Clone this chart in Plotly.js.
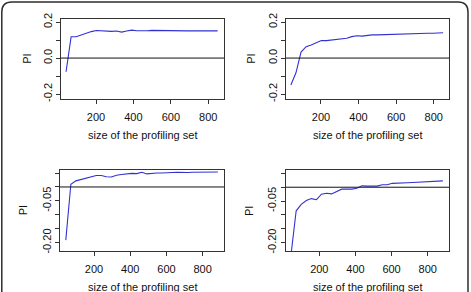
<!DOCTYPE html>
<html>
<head>
<meta charset="utf-8">
<script src="https://cdn.plot.ly/plotly-3.0.1.min.js"></script>
<style>
  html, body { margin: 0; padding: 0; background: #fff; }
  #chart { width: 471px; height: 292px; }
</style>
</head>
<body>
<div id="chart"></div>
<script>
// Profiling-set sizes for the two runs in each row
const sizesTop = [40, 67, 94, 121, 148, 175, 202, 229, 256, 283, 310, 337, 364, 391, 418, 445,
                  472, 499, 526, 553, 580, 607, 634, 661, 688, 715, 742, 769, 796, 823, 850];
const sizesBottom = [44, 72, 100, 128, 156, 184, 212, 240, 268, 296, 324, 352, 380, 408, 436, 464,
                     492, 520, 548, 576, 604, 632, 660, 688, 716, 744, 772, 800, 828, 856, 884];

// PI values per panel
const piTopLeft = [-0.076, 0.118, 0.118, 0.128, 0.140, 0.147, 0.153, 0.151, 0.146, 0.148, 0.150,
                   0.144, 0.150, 0.155, 0.152, 0.150, 0.152, 0.154, 0.153, 0.153, 0.152, 0.152,
                   0.152, 0.151, 0.151, 0.152, 0.152, 0.152, 0.151, 0.152, 0.151];
const piTopRight = [-0.150, -0.082, 0.033, 0.063, 0.073, 0.086, 0.098, 0.097, 0.100, 0.107, 0.109,
                    0.110, 0.119, 0.124, 0.122, 0.127, 0.129, 0.129, 0.130, 0.133, 0.135, 0.135,
                    0.136, 0.137, 0.138, 0.139, 0.139, 0.138, 0.138, 0.139, 0.141];
const piBottomLeft = [-0.191, 0.010, 0.022, 0.027, 0.033, 0.038, 0.041, 0.041, 0.037, 0.036, 0.042,
                      0.045, 0.048, 0.049, 0.048, 0.053, 0.047, 0.049, 0.050, 0.050, 0.050, 0.052,
                      0.053, 0.052, 0.052, 0.053, 0.053, 0.053, 0.053, 0.054, 0.054];
const piBottomRight = [-0.240, -0.085, -0.062, -0.048, -0.041, -0.045, -0.025, -0.022, -0.024, -0.015,
                       -0.007, -0.007, -0.007, -0.004, 0.005, 0.004, 0.004, 0.004, 0.009, 0.009,
                       0.014, 0.014, 0.014, 0.016, 0.017, 0.018, 0.019, 0.020, 0.022, 0.022, 0.023];

// Tick labels
const xTicks = [200, 400, 600, 800];
const yTicksTop = [-0.2, -0.1, 0, 0.1, 0.2];
const yLabelsTop = ['-0.2', '', '0.0', '', '0.2'];
const yTicksBottom = [-0.20, -0.15, -0.10, -0.05, 0, 0.05];
const yLabelsBottom = ['-0.20', '', '', '-0.05', '', ''];

const xTitle = 'size of the profiling set';
const yTitle = 'PI';

const FONT = 'Liberation Sans, Arial, Helvetica, sans-serif';
const W = 471, H = 292;

// Plot boxes in pixels: [left, right, top, bottom]
const boxes = [
  [61, 224, 19, 99.3],
  [286, 449.3, 19, 99.3],
  [60, 224, 170, 251.3],
  [285.7, 449, 170.3, 251.3]
];

const panels = [
  { x: sizesTop, y: piTopLeft, xr: [13, 884], yr: [-0.229, 0.217], tv: yTicksTop, tt: yLabelsTop },
  { x: sizesTop, y: piTopRight, xr: [14, 883], yr: [-0.229, 0.217], tv: yTicksTop, tt: yLabelsTop },
  { x: sizesBottom, y: piBottomLeft, xr: [12, 918], yr: [-0.231, 0.061], tv: yTicksBottom, tt: yLabelsBottom },
  { x: sizesBottom, y: piBottomRight, xr: [14, 918], yr: [-0.231, 0.061], tv: yTicksBottom, tt: yLabelsBottom }
];

const traces = [];
const layout = {
  width: W, height: H,
  margin: { l: 0, r: 0, t: 0, b: 0 },
  paper_bgcolor: '#fff', plot_bgcolor: '#fff',
  showlegend: false,
  font: { family: FONT, size: 11, color: '#111' },
  shapes: [],
  annotations: []
};

const axisLine = '#333';

panels.forEach((p, i) => {
  const n = i === 0 ? '' : String(i + 1);
  const [l, r, t, b] = boxes[i];
  traces.push({
    type: 'scatter', mode: 'lines',
    x: p.x, y: p.y,
    xaxis: 'x' + n, yaxis: 'y' + n,
    line: { color: '#3232d2', width: 1.1 },
    hoverinfo: 'skip'
  });
  layout['xaxis' + n] = {
    domain: [l / W, r / W], anchor: 'y' + n,
    range: p.xr, tickvals: xTicks, ticktext: xTicks.map(String),
    ticks: 'outside', ticklen: 4, tickwidth: 1, tickcolor: axisLine,
    ticklabelstandoff: 3,
    showline: true, linecolor: axisLine, linewidth: 1, mirror: true,
    showgrid: false, zeroline: false, fixedrange: true,
    tickfont: { family: FONT, size: 11, color: '#111' }
  };
  layout['yaxis' + n] = {
    domain: [1 - b / H, 1 - t / H], anchor: 'x' + n,
    range: p.yr, tickvals: p.tv, ticktext: p.tt, tickangle: -90,
    ticks: 'outside', ticklen: 4, tickwidth: 1, tickcolor: axisLine,
    showline: true, linecolor: axisLine, linewidth: 1, mirror: true,
    showgrid: false, zeroline: false, fixedrange: true,
    tickfont: { family: FONT, size: 11, color: '#111' }
  };
  // reference line at PI = 0
  layout.shapes.push({
    type: 'line', xref: 'x' + n + ' domain', yref: 'y' + n,
    x0: 0, x1: 1, y0: 0, y1: 0,
    line: { color: '#111', width: 1 }
  });
  // axis titles
  layout.annotations.push({
    text: xTitle, xref: 'paper', yref: 'paper',
    x: (l + r) / 2 / W, y: 1 - (b + 36) / H,
    showarrow: false, xanchor: 'center', yanchor: 'middle',
    font: { family: FONT, size: 11, color: '#111' }
  });
  layout.annotations.push({
    text: yTitle, xref: 'paper', yref: 'paper',
    x: (i % 2 === 0 ? (i === 0 ? 26.7 : 22.7) : (i === 1 ? 250.7 : 248.3)) / W,
    y: 1 - (t + b) / 2 / H, textangle: -90,
    showarrow: false, xanchor: 'center', yanchor: 'middle',
    font: { family: FONT, size: 11, color: '#111' }
  });
});

// rounded outer frame, open at the bottom edge
const fl = 1.8 / W, fr = 468 / W, ft = 1 - 2 / H, fb = -0.05;
const rx = 10 / W, ry = 10 / H;
layout.shapes.push({
  type: 'path', xref: 'paper', yref: 'paper',
  path: `M ${fl},${fb} L ${fl},${ft - ry} Q ${fl},${ft} ${fl + rx},${ft} ` +
        `L ${fr - rx},${ft} Q ${fr},${ft} ${fr},${ft - ry} L ${fr},${fb}`,
  line: { color: '#2e2e2e', width: 1.5 },
  fillcolor: 'rgba(0,0,0,0)'
});

Plotly.newPlot('chart', traces, layout, { staticPlot: true, displayModeBar: false });
</script>
</body>
</html>
